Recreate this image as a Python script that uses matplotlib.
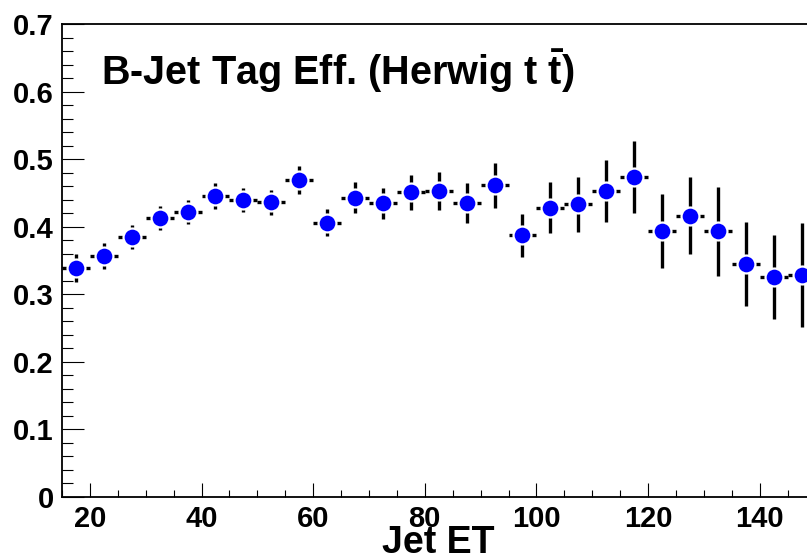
import matplotlib
matplotlib.use("Agg")
from matplotlib import pyplot as plt
from matplotlib.ticker import MultipleLocator, FuncFormatter
import numpy as np

plt.rcParams['font.family'] = ['Liberation Sans', 'DejaVu Sans']
plt.rcParams['font.weight'] = 'bold'
plt.rcParams['mathtext.fontset'] = 'custom'
plt.rcParams['mathtext.bf'] = 'Liberation Sans:bold'
plt.rcParams['mathtext.rm'] = 'Liberation Sans:bold'

# bin centres (Jet ET) and tag efficiency with errors
jet_et = [17.5, 22.5, 27.5, 32.5, 37.5, 42.5, 47.5, 52.5, 57.5, 62.5,
          67.5, 72.5, 77.5, 82.5, 87.5, 92.5, 97.5, 102.5, 107.5, 112.5,
          117.5, 122.5, 127.5, 132.5, 137.5, 142.5, 147.5]
eff = [0.339, 0.357, 0.385, 0.413, 0.422, 0.445, 0.440, 0.436, 0.469, 0.406,
       0.443, 0.435, 0.451, 0.453, 0.435, 0.461, 0.387, 0.428, 0.433, 0.453,
       0.474, 0.394, 0.416, 0.393, 0.345, 0.325, 0.328]
eff_err = [0.021, 0.019, 0.018, 0.018, 0.018, 0.019, 0.018, 0.019, 0.021, 0.020,
           0.023, 0.023, 0.026, 0.028, 0.030, 0.034, 0.032, 0.038, 0.041, 0.046,
           0.053, 0.055, 0.057, 0.066, 0.062, 0.062, 0.077]
bin_half = 2.5

fig = plt.figure(figsize=(8.07, 5.57), dpi=100)
ax = fig.add_axes([62/807, 60/557, 753.5/807, 473/557])

ax.errorbar(jet_et, eff, yerr=eff_err, xerr=bin_half, fmt='o', color='black',
            ecolor='black', elinewidth=2.4, capsize=0,
            mfc='#0000ff', mec='white', mew=1.6, ms=12.9, zorder=3)

ax.set_xlim(15, 150)
ax.set_ylim(0, 0.7)

ax.xaxis.set_major_locator(MultipleLocator(20))
ax.xaxis.set_minor_locator(MultipleLocator(5))
ax.yaxis.set_major_locator(MultipleLocator(0.1))
ax.yaxis.set_minor_locator(MultipleLocator(0.02))
ax.yaxis.set_major_formatter(FuncFormatter(lambda v, p: '%g' % round(v, 2)))

ax.tick_params(axis='both', which='both', direction='in', width=0.8,
               labelsize=21, top=False, right=False)
ax.tick_params(axis='x', which='major', length=10, pad=6)
ax.tick_params(axis='x', which='minor', length=5)
ax.tick_params(axis='y', which='major', length=16, pad=6)
ax.tick_params(axis='y', which='minor', length=8)
for s in ax.spines.values():
    s.set_linewidth(1.3)

ax.set_xlabel('Jet ET', fontsize=27, fontweight='bold')
ax.xaxis.label.set_va('baseline')
ax.xaxis.set_label_coords(0.5, -0.1184)

ax.text(0.0514, 0.871, r'B-Jet Tag Eff. (Herwig t $\bar{\mathbf{t}}$)',
        transform=ax.transAxes, fontsize=28.5, fontweight='bold',
        ha='left', va='baseline')

fig.savefig('out.png', dpi=100)
